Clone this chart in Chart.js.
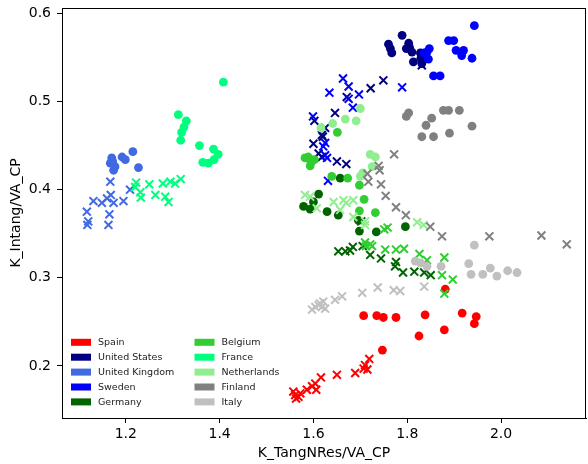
<!DOCTYPE html>
<html>
<head>
<meta charset="utf-8">
<script src="https://cdn.jsdelivr.net/npm/chart.js@4"></script>
<style>
  html, body { margin: 0; padding: 0; background: #fff; }
  #wrap { width: 588px; height: 464px; }
</style>
</head>
<body>
<div id="wrap"><canvas id="chart" width="588" height="464"></canvas></div>
<script>
//-------------------- DATA -------------------
const countries = ['Spain', 'United States', 'United Kingdom', 'Sweden', 'Germany',
                   'Belgium', 'France', 'Netherlands', 'Finland', 'Italy'];
const colors = ['#FF0000', '#000080', '#4169E1', '#0000FF', '#006400',
                '#32CD32', '#00FF7F', '#90EE90', '#808080', '#C0C0C0'];

const xTicks = [1.2, 1.4, 1.6, 1.8, 2.0];
const yTicks = [0.2, 0.3, 0.4, 0.5, 0.6];

// circles
const spainDots = [[1.707,0.257],[1.735,0.257],[1.749,0.255],[1.776,0.255],[1.838,0.258],[1.917,0.260],
  [1.947,0.256],[1.943,0.248],[1.879,0.241],[1.825,0.234],[1.747,0.218],[1.881,0.287]];
const usDots = [[1.789,0.575],[1.760,0.565],[1.764,0.560],[1.767,0.555],[1.803,0.566],[1.805,0.561],
  [1.798,0.560],[1.810,0.556],[1.828,0.555],[1.813,0.545],[1.829,0.549],[1.831,0.543]];
const ukDots = [[1.170,0.436],[1.167,0.430],[1.174,0.422],[1.177,0.426],[1.192,0.437],[1.199,0.434],
  [1.215,0.443],[1.227,0.425],[1.172,0.432]];
const swedenDots = [[1.943,0.586],[1.888,0.569],[1.899,0.569],[1.904,0.558],[1.920,0.558],[1.916,0.552],
  [1.938,0.549],[1.847,0.560],[1.842,0.556],[1.836,0.555],[1.845,0.548],[1.856,0.529],[1.870,0.529]];
const germanyDots = [[1.611,0.395],[1.600,0.386],[1.579,0.381],[1.593,0.378],[1.629,0.375],[1.653,0.371],
  [1.657,0.413],[1.696,0.365],[1.698,0.353],[1.734,0.352],[1.796,0.358]];
const belgiumDots = [[1.589,0.437],[1.602,0.434],[1.593,0.427],[1.582,0.436],[1.595,0.431],[1.651,0.465],
  [1.639,0.415],[1.673,0.413],[1.698,0.405],[1.708,0.389],[1.698,0.376],[1.732,0.374]];
const franceDots = [[1.408,0.522],[1.312,0.485],[1.329,0.478],[1.324,0.471],[1.319,0.465],[1.317,0.456],
  [1.357,0.450],[1.387,0.446],[1.397,0.440],[1.388,0.434],[1.376,0.430],[1.364,0.431]];
const netherlandsDots = [[1.700,0.492],[1.668,0.480],[1.691,0.478],[1.641,0.475],[1.616,0.470],[1.721,0.440],
  [1.732,0.437],[1.700,0.415],[1.705,0.419],[1.725,0.426]];
const finlandDots = [[1.798,0.483],[1.803,0.487],[1.840,0.473],[1.852,0.481],[1.831,0.460],[1.856,0.460],
  [1.890,0.464],[1.877,0.490],[1.888,0.490],[1.911,0.490],[1.938,0.472]];
const italyDots = [[1.943,0.337],[1.931,0.316],[1.936,0.304],[1.961,0.304],[1.977,0.311],[1.991,0.302],
  [2.014,0.308],[2.034,0.306],[1.817,0.319],[1.828,0.317],[1.842,0.313],[1.872,0.313]];

// crosses
const spainCrosses = [[1.557,0.171],[1.568,0.165],[1.561,0.167],[1.572,0.169],[1.563,0.163],[1.586,0.173],
  [1.597,0.177],[1.604,0.180],[1.606,0.173],[1.616,0.187],[1.650,0.190],[1.689,0.192],[1.707,0.197],
  [1.710,0.201],[1.715,0.196],[1.719,0.208]];
const usCrosses = [[1.831,0.541],[1.749,0.524],[1.722,0.515],[1.671,0.505],[1.646,0.487],[1.602,0.478],
  [1.600,0.452],[1.618,0.462],[1.625,0.470],[1.620,0.460],[1.611,0.441],[1.618,0.437],[1.650,0.432],[1.670,0.429]];
const ukCrosses = [[1.167,0.409],[1.209,0.400],[1.131,0.387],[1.149,0.385],[1.160,0.390],[1.168,0.394],
  [1.174,0.385],[1.195,0.387],[1.117,0.375],[1.120,0.364],[1.118,0.360],[1.165,0.372],[1.163,0.360]];
const swedenCrosses = [[1.663,0.526],[1.675,0.517],[1.697,0.508],[1.684,0.493],[1.634,0.510],[1.599,0.483],
  [1.789,0.516],[1.625,0.453],[1.621,0.449],[1.629,0.436],[1.625,0.439],[1.631,0.410],[1.675,0.503]];
const germanyCrosses = [[1.653,0.330],[1.668,0.330],[1.678,0.331],[1.684,0.335],[1.705,0.336],[1.721,0.326],
  [1.744,0.322],[1.776,0.318],[1.774,0.313],[1.791,0.306],[1.815,0.307],[1.836,0.306],[1.850,0.303],[1.702,0.364]];
const belgiumCrosses = [[1.712,0.336],[1.725,0.336],[1.753,0.332],[1.776,0.332],[1.793,0.333],[1.751,0.355],
  [1.758,0.357],[1.826,0.327],[1.842,0.320],[1.879,0.323],[1.874,0.303],[1.897,0.298],[1.879,0.282],
  [1.710,0.340],[1.721,0.338]];
const franceCrosses = [[1.222,0.408],[1.220,0.403],[1.231,0.397],[1.232,0.391],[1.250,0.406],[1.263,0.394],
  [1.279,0.407],[1.295,0.409],[1.305,0.407],[1.317,0.412],[1.284,0.392],[1.291,0.386]];
const netherlandsCrosses = [[1.582,0.394],[1.593,0.392],[1.607,0.379],[1.643,0.386],[1.664,0.388],[1.670,0.385],
  [1.685,0.388],[1.657,0.377],[1.685,0.369],[1.710,0.364],[1.821,0.363],[1.835,0.360],[1.710,0.360]];
const finlandCrosses = [[1.772,0.440],[1.739,0.427],[1.741,0.422],[1.715,0.418],[1.717,0.409],[1.744,0.406],
  [1.754,0.393],[1.776,0.380],[1.797,0.371],[1.849,0.358],[1.874,0.347],[1.975,0.347],[2.086,0.348],[2.140,0.338]];
const italyCrosses = [[1.597,0.264],[1.604,0.267],[1.611,0.269],[1.614,0.271],[1.618,0.267],[1.625,0.265],
  [1.621,0.273],[1.646,0.275],[1.661,0.279],[1.704,0.283],[1.737,0.289],[1.771,0.286],[1.785,0.285],[1.836,0.290]];

const dots = [spainDots, usDots, ukDots, swedenDots, germanyDots,
              belgiumDots, franceDots, netherlandsDots, finlandDots, italyDots];
const crosses = [spainCrosses, usCrosses, ukCrosses, swedenCrosses, germanyCrosses,
                 belgiumCrosses, franceCrosses, netherlandsCrosses, finlandCrosses, italyCrosses];

//-------------------- DATASETS -------------------
const toXY = arr => arr.map(p => ({ x: p[0], y: p[1] }));
const datasets = [];
countries.forEach((name, i) => {
    datasets.push({
        label: name,
        data: toXY(dots[i]),
        pointStyle: 'circle',
        pointRadius: 4.4,
        pointBorderWidth: 0,
        backgroundColor: colors[i],
        borderColor: colors[i],
        order: -2 * i
    });
    datasets.push({
        label: name + ' x',
        data: toXY(crosses[i]),
        pointStyle: 'crossRot',
        pointRadius: 5.6,
        pointBorderWidth: 2,
        backgroundColor: colors[i],
        borderColor: colors[i],
        order: -2 * i - 1
    });
});

// legend drawn inside the plot, two columns like the original
const innerLegend = {
    id: 'innerLegend',
    afterDraw(chart) {
        const ctx = chart.ctx;
        const area = chart.chartArea;
        ctx.save();
        ctx.font = '9.5px "DejaVu Sans"';
        ctx.textBaseline = 'middle';
        ctx.textAlign = 'left';
        countries.forEach((name, i) => {
            const col = Math.floor(i / 5);
            const row = i % 5;
            const x = area.left + 9 + col * 123.5;
            const y = area.bottom - 75.7 + row * 14.9;
            ctx.fillStyle = colors[i];
            ctx.fillRect(x, y - 3.5, 20, 7);
            ctx.fillStyle = '#222';
            ctx.fillText(name, x + 27, y + 0.5);
        });
        ctx.restore();
    }
};

const tickFont = { family: 'DejaVu Sans', size: 14 };

//-------------------- CONFIG -------------------
const config = {
    type: 'scatter',
    data: { datasets },
    options: {
        responsive: false,
        animation: false,
        events: [],
        layout: { autoPadding: false, padding: { top: 8, right: 2, left: 0, bottom: 0 } },
        plugins: {
            legend: { display: false },
            tooltip: { enabled: false }
        },
        scales: {
            x: {
                type: 'linear',
                min: 1.064,
                max: 2.181,
                grid: { drawOnChartArea: false, color: '#000', tickLength: 5 },
                border: { color: '#000', width: 1 },
                afterBuildTicks: s => { s.ticks = xTicks.map(v => ({ value: v })); },
                afterFit: s => { s.height = 46; s.paddingLeft = 0; s.paddingRight = 0; },
                ticks: {
                    color: '#000',
                    font: tickFont,
                    padding: 3,
                    maxRotation: 0,
                    callback: v => v.toFixed(1)
                },
                title: {
                    display: true,
                    text: 'K_TangNRes/VA_CP',
                    color: '#000',
                    font: tickFont,
                    padding: { top: 0, bottom: 2 }
                }
            },
            y: {
                type: 'linear',
                min: 0.141,
                max: 0.606,
                grid: { drawOnChartArea: false, color: '#000', tickLength: 5 },
                border: { color: '#000', width: 1 },
                afterBuildTicks: s => { s.ticks = yTicks.map(v => ({ value: v })); },
                afterFit: s => { s.width = 62; s.paddingTop = 0; s.paddingBottom = 0; },
                ticks: {
                    color: '#000',
                    font: tickFont,
                    padding: 6,
                    callback: v => v.toFixed(1)
                },
                title: {
                    display: true,
                    text: 'K_Intang/VA_CP',
                    color: '#000',
                    font: tickFont,
                    padding: { top: 8, bottom: 0 }
                }
            }
        }
    },
    plugins: [innerLegend, {
        id: 'frame',
        afterDraw(chart) {
            const a = chart.chartArea;
            const ctx = chart.ctx;
            ctx.save();
            ctx.strokeStyle = '#000';
            ctx.lineWidth = 1;
            ctx.strokeRect(Math.round(a.left) + 0.5, Math.round(a.top) + 0.5,
                           Math.round(a.right - a.left) - 1, Math.round(a.bottom - a.top));
            ctx.restore();
        }
    }]
};

//-------------------- RENDER -------------------
const myChart = new Chart(document.getElementById('chart'), config);
</script>
</body>
</html>
